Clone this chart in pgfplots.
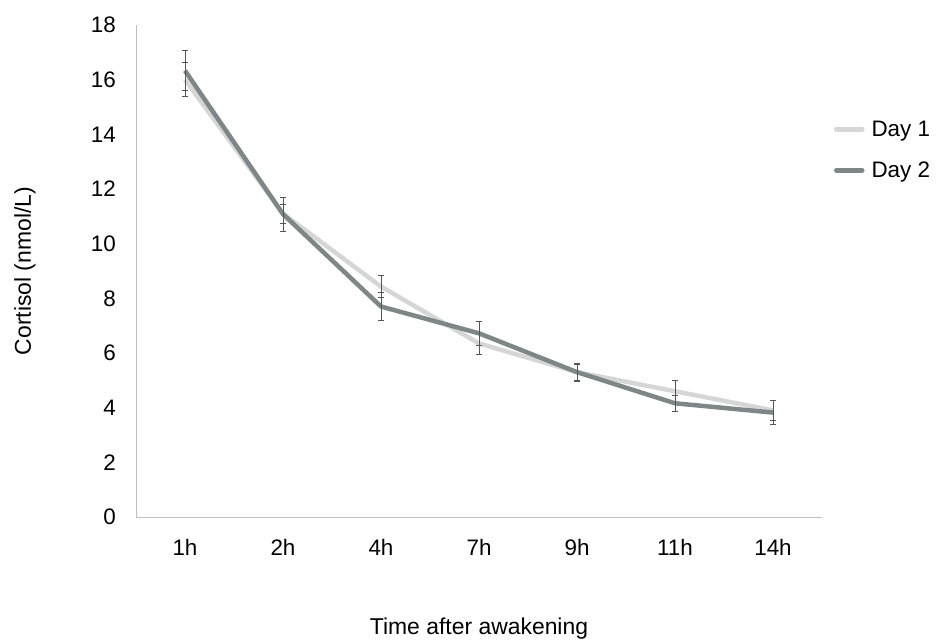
\documentclass[border=0pt]{standalone}
\usepackage{pgfplots}
\pgfplotsset{compat=1.18}
\usepackage{fontspec}
\setmainfont{Liberation Sans}
\definecolor{dayone}{HTML}{D6D6D6}
\definecolor{daytwo}{HTML}{7E8787}
\definecolor{axisgray}{HTML}{BFBFBF}
\definecolor{errgray}{HTML}{555555}
\begin{document}
\begin{tikzpicture}
\useasboundingbox (0,0) rectangle (936bp,644bp);
\begin{axis}[
  at={(136bp,127bp)}, anchor=south west,
  scale only axis, width=686bp, height=492bp,
  xmin=-0.5, xmax=6.5, ymin=0, ymax=18,
  xtick={0,...,6}, xticklabels={1h,2h,4h,7h,9h,11h,14h},
  ytick={0,2,...,18},
  axis x line*=bottom, axis y line*=left,
  axis line style={axisgray, line width=0.8bp},
  x axis line style={-}, y axis line style={-},
  major tick length=0pt,
  tick label style={font=\fontsize{22.5}{26}\selectfont, inner sep=0pt},
  /pgf/number format/assume math mode=true,
  yticklabel style={anchor=east, xshift=-20bp},
  xticklabel style={anchor=center, yshift=-30bp},
  xlabel={Time after awakening},
  ylabel={Cortisol (nmol/L)},
  label style={font=\fontsize{23}{27}\selectfont},
  xlabel style={at={(axis description cs:0.5,-0.2276)}, anchor=center},
  ylabel style={at={(axis description cs:-0.162,0.5)}, anchor=center, rotate=0},
  legend style={draw=none, fill=none, font=\fontsize{22.5}{26}\selectfont,
    at={(axis description cs:1.0175,0.746)}, anchor=west,
    row sep=20bp, inner sep=0pt, outer sep=0pt,
    nodes={inner sep=2bp}},
  legend cell align=left,
  legend image code/.code={\draw[#1, line cap=round] (0bp,0bp) -- (26bp,0bp);},
  error bars/error bar style={errgray, line width=0.8bp},
  error bars/error mark options={errgray, rotate=90, mark size=3bp, line width=0.8bp},
]
\addplot[dayone, line width=4.5bp, line join=round, mark=none,
  error bars/.cd, y dir=both, y explicit]
  table[x=x, y=y, y error=e] {
x y e
0 16.0 0.62
1 11.1 0.35
2 8.43 0.40
3 6.35 0.40
4 5.30 0.30
5 4.60 0.40
6 3.90 0.38
};
\addlegendentry{\hspace*{5bp}Day 1}
\addplot[daytwo, line width=4.5bp, line join=round, mark=none,
  error bars/.cd, y dir=both, y explicit]
  table[x=x, y=y, y error=e] {
x y e
0 16.33 0.74
1 11.08 0.62
2 7.70 0.50
3 6.72 0.45
4 5.30 0.33
5 4.16 0.28
6 3.82 0.45
};
\addlegendentry{\hspace*{5bp}Day 2}
\end{axis}
\end{tikzpicture}
\end{document}
